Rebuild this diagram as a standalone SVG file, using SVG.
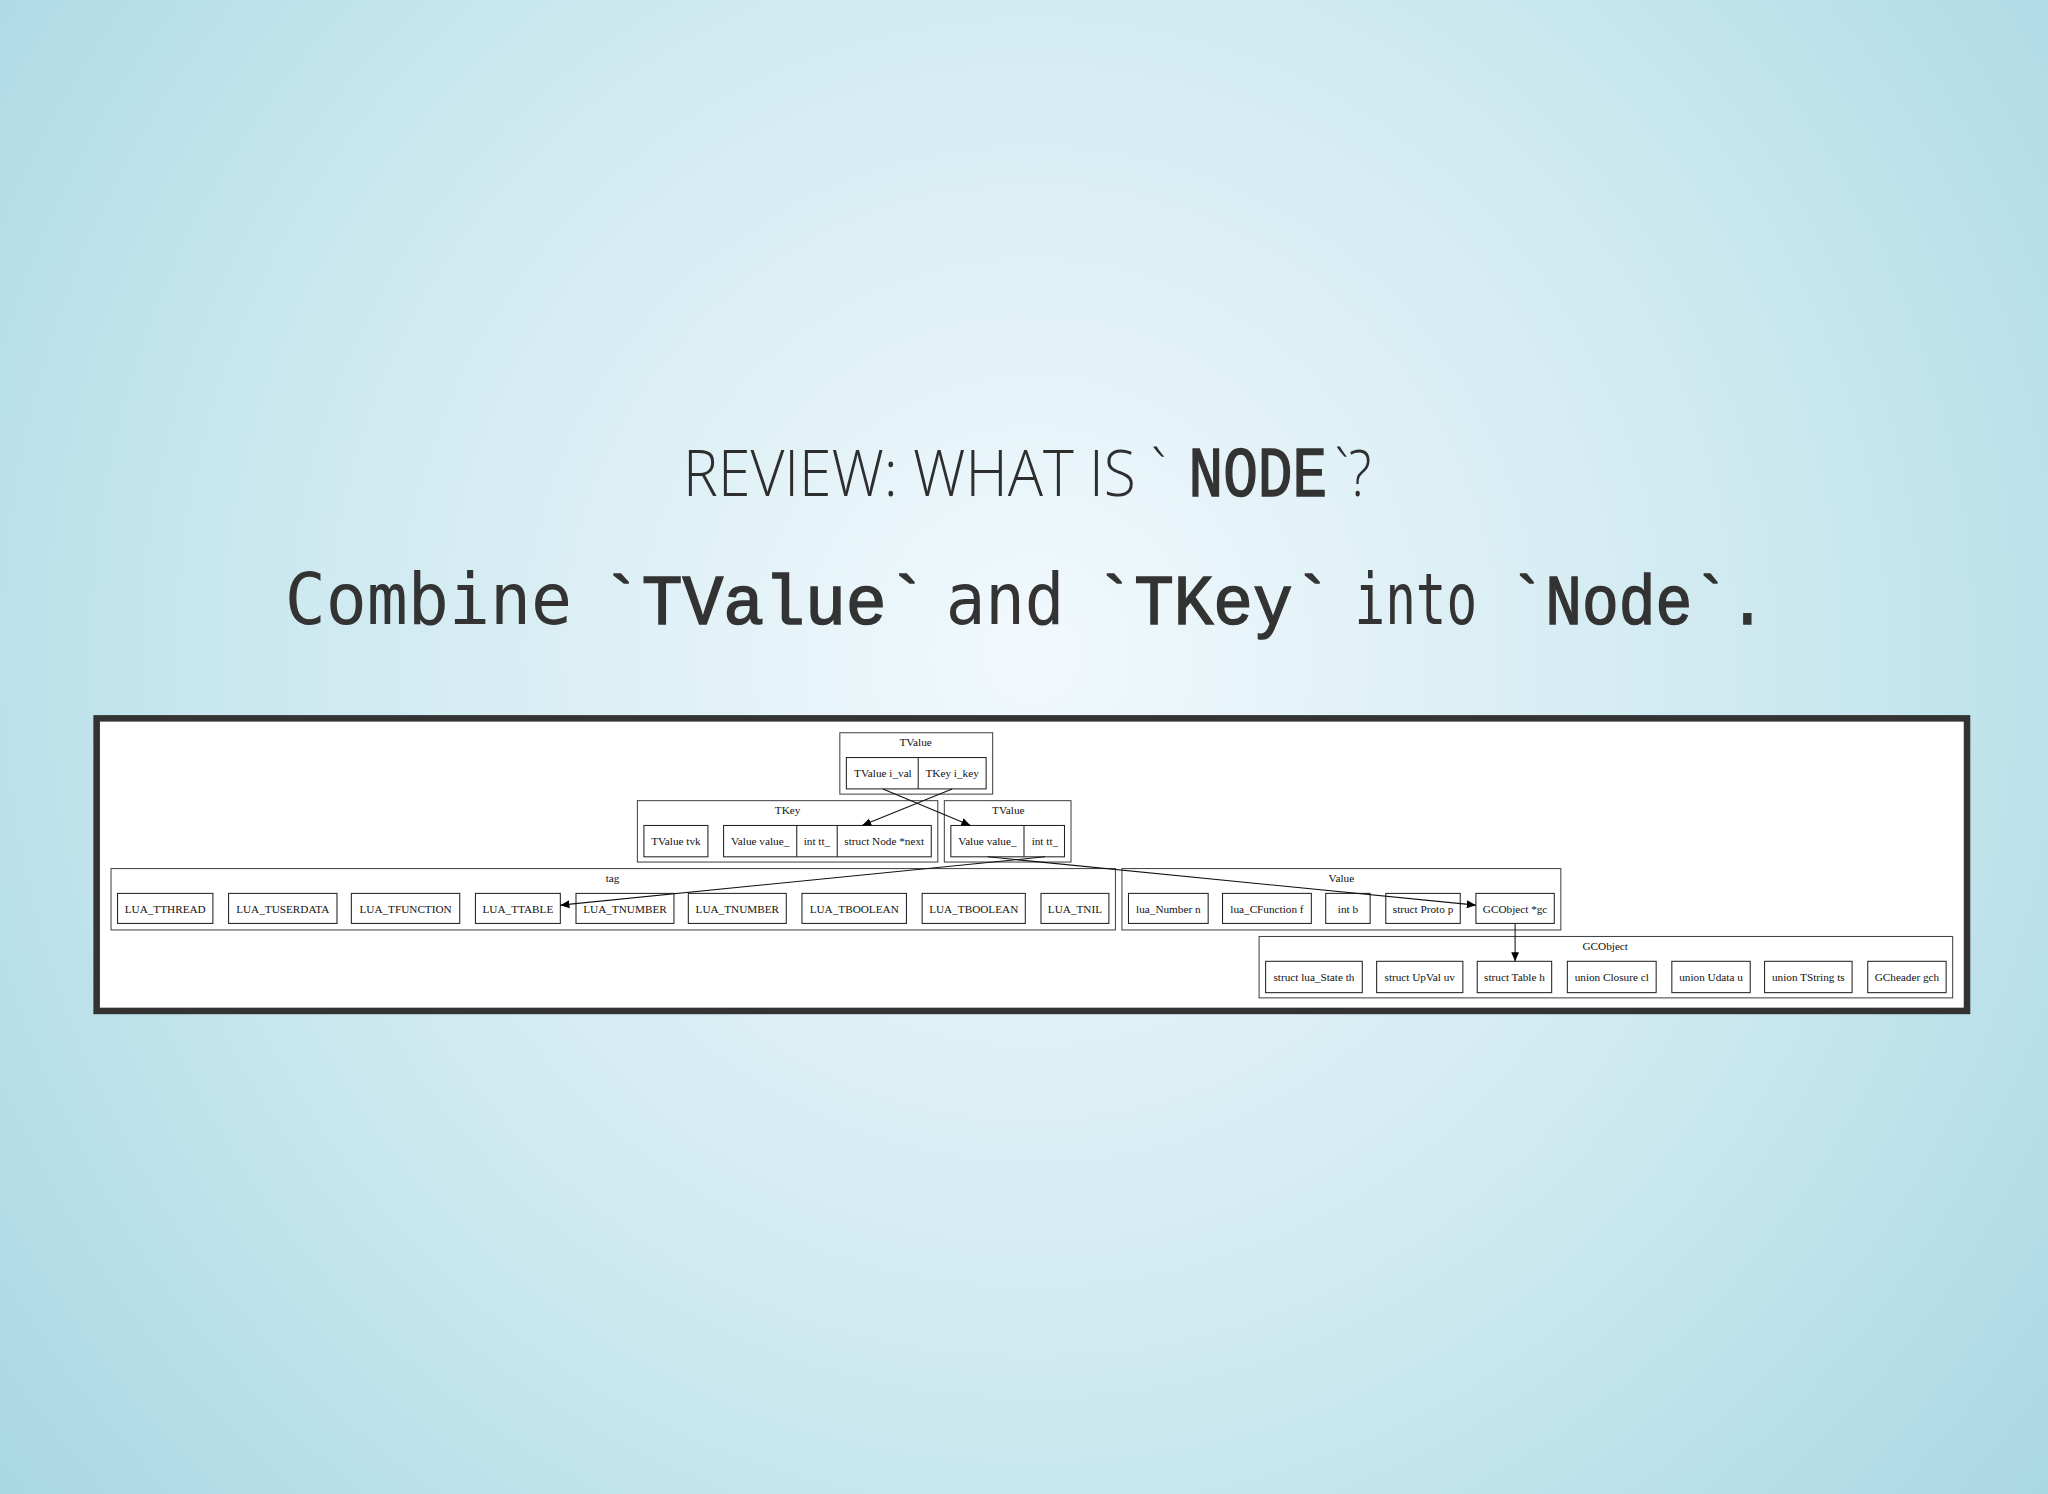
<svg xmlns="http://www.w3.org/2000/svg" width="2048" height="1494" viewBox="0 0 2048 1494">
<defs>
<radialGradient id="bg" cx="790" cy="500" r="1000" gradientUnits="userSpaceOnUse" gradientTransform="scale(1.3061)">
<stop offset="0" stop-color="#f2f9fd"/><stop offset="0.6" stop-color="#cbe8ef"/><stop offset="1" stop-color="#aad8e4"/>
</radialGradient>
<marker id="ah" markerWidth="8" markerHeight="8" refX="7" refY="4" orient="auto" markerUnits="userSpaceOnUse"><path d="M0,1 L7,4 L0,7 z" fill="#000"/></marker>
<style>
.cl{fill:none;stroke:#444;stroke-width:0.8}
.nd{fill:#fff;stroke:#222;stroke-width:0.8}
.ln{stroke:#222;stroke-width:0.8}
.t{font-family:"Liberation Serif",serif;font-size:8.6px;fill:#111;text-anchor:middle}
.e{fill:none;stroke:#111;stroke-width:0.8;marker-end:url(#ah)}
.h{font-family:"Open Sans",sans-serif;font-weight:300;font-size:50px;fill:#2e2e2e}
.s{font-family:"DejaVu Sans Mono",monospace;font-size:54px;fill:#333}
.c{font-family:"Liberation Mono","Courier New",monospace;font-size:54px;fill:#333;stroke:#333;stroke-width:1.2}
</style>
</defs>
<rect width="2048" height="1494" fill="url(#bg)"/>
<g transform="scale(1.30612)">
<g id="title">
<text class="h" x="523" y="380" textLength="370" lengthAdjust="spacingAndGlyphs">REVIEW: WHAT IS `</text>
<text class="c" x="910" y="380" font-size="46" textLength="106" lengthAdjust="spacingAndGlyphs">NODE</text>
<text class="h" x="1022" y="380" textLength="28" lengthAdjust="spacingAndGlyphs">`?</text>
</g>
<g id="subtitle">
<text class="s" x="218" y="478" textLength="220" lengthAdjust="spacingAndGlyphs">Combine</text>
<text class="c" x="460" y="478" textLength="250" lengthAdjust="spacingAndGlyphs">`TValue`</text>
<text class="s" x="724" y="478" textLength="91" lengthAdjust="spacingAndGlyphs">and</text>
<text class="c" x="838" y="478" textLength="182" lengthAdjust="spacingAndGlyphs">`TKey`</text>
<text class="s" x="1037" y="478" textLength="94" lengthAdjust="spacingAndGlyphs">into</text>
<text class="c" x="1155" y="478" textLength="197" lengthAdjust="spacingAndGlyphs">`Node`.</text>
</g>
<rect x="74" y="550" width="1432" height="224" fill="#fff" stroke="#333" stroke-width="5"/>

<g id="cluster-tvalue-node">
<rect class="cl" x="643" y="561" width="117" height="47"/><text class="t" x="701" y="571">TValue</text>
<rect class="nd" x="648" y="580" width="107" height="24"/><line class="ln" x1="703" y1="580" x2="703" y2="604"/>
<text class="t" x="676" y="595">TValue i_val</text><text class="t" x="729" y="595">TKey i_key</text>
</g>
<g id="cluster-tkey">
<rect class="cl" x="488" y="613" width="230" height="47"/><text class="t" x="603" y="623">TKey</text>
<rect class="nd" x="493" y="632" width="49" height="24"/><text class="t" x="517.5" y="647">TValue tvk</text>
<rect class="nd" x="554" y="632" width="159" height="24"/><line class="ln" x1="610" y1="632" x2="610" y2="656"/><line class="ln" x1="641" y1="632" x2="641" y2="656"/>
<text class="t" x="582" y="647">Value value_</text><text class="t" x="625.5" y="647">int tt_</text><text class="t" x="677" y="647">struct Node *next</text>
</g>
<g id="cluster-tvalue">
<rect class="cl" x="723" y="613" width="97" height="47"/><text class="t" x="772" y="623">TValue</text>
<rect class="nd" x="728" y="632" width="87" height="24"/><line class="ln" x1="784" y1="632" x2="784" y2="656"/>
<text class="t" x="756" y="647">Value value_</text><text class="t" x="800" y="647">int tt_</text>
</g>
<g id="cluster-tag">
<rect class="cl" x="85" y="665" width="769" height="47"/><text class="t" x="469" y="675">tag</text>
<rect class="nd" x="90" y="684" width="73" height="23"/><text class="t" x="126.5" y="699">LUA_TTHREAD</text>
<rect class="nd" x="175" y="684" width="83" height="23"/><text class="t" x="216.5" y="699">LUA_TUSERDATA</text>
<rect class="nd" x="269" y="684" width="83" height="23"/><text class="t" x="310.5" y="699">LUA_TFUNCTION</text>
<rect class="nd" x="364" y="684" width="65" height="23"/><text class="t" x="396.5" y="699">LUA_TTABLE</text>
<rect class="nd" x="441" y="684" width="75" height="23"/><text class="t" x="478.5" y="699">LUA_TNUMBER</text>
<rect class="nd" x="527" y="684" width="75" height="23"/><text class="t" x="564.5" y="699">LUA_TNUMBER</text>
<rect class="nd" x="614" y="684" width="80" height="23"/><text class="t" x="654" y="699">LUA_TBOOLEAN</text>
<rect class="nd" x="706" y="684" width="79" height="23"/><text class="t" x="745.5" y="699">LUA_TBOOLEAN</text>
<rect class="nd" x="797" y="684" width="52" height="23"/><text class="t" x="823" y="699">LUA_TNIL</text>
</g>
<g id="cluster-value">
<rect class="cl" x="859" y="665" width="336" height="47"/><text class="t" x="1027" y="675">Value</text>
<rect class="nd" x="864" y="684" width="61" height="23"/><text class="t" x="894.5" y="699">lua_Number n</text>
<rect class="nd" x="936" y="684" width="68" height="23"/><text class="t" x="970" y="699">lua_CFunction f</text>
<rect class="nd" x="1015" y="684" width="34" height="23"/><text class="t" x="1032" y="699">int b</text>
<rect class="nd" x="1061" y="684" width="57" height="23"/><text class="t" x="1089.5" y="699">struct Proto p</text>
<rect class="nd" x="1130" y="684" width="60" height="23"/><text class="t" x="1160" y="699">GCObject *gc</text>
</g>
<g id="cluster-gcobject">
<rect class="cl" x="964" y="717" width="531" height="47"/><text class="t" x="1229" y="727">GCObject</text>
<rect class="nd" x="969" y="736" width="74" height="24"/><text class="t" x="1006" y="751">struct lua_State th</text>
<rect class="nd" x="1054" y="736" width="66" height="24"/><text class="t" x="1087" y="751">struct UpVal uv</text>
<rect class="nd" x="1131" y="736" width="57" height="24"/><text class="t" x="1159.5" y="751">struct Table h</text>
<rect class="nd" x="1200" y="736" width="68" height="24"/><text class="t" x="1234" y="751">union Closure cl</text>
<rect class="nd" x="1280" y="736" width="60" height="24"/><text class="t" x="1310" y="751">union Udata u</text>
<rect class="nd" x="1351" y="736" width="67" height="24"/><text class="t" x="1384.5" y="751">union TString ts</text>
<rect class="nd" x="1430" y="736" width="60" height="24"/><text class="t" x="1460" y="751">GCheader gch</text>
</g>
<g id="connectors">
<path class="e" d="M676,604 L743,632"/>
<path class="e" d="M729,604 L660,632"/>
<path class="e" d="M800,656 L429,693"/>
<path class="e" d="M756,656 L1130,693"/>
<path class="e" d="M1160,707 L1160,736"/>
</g>
</g>
</svg>
